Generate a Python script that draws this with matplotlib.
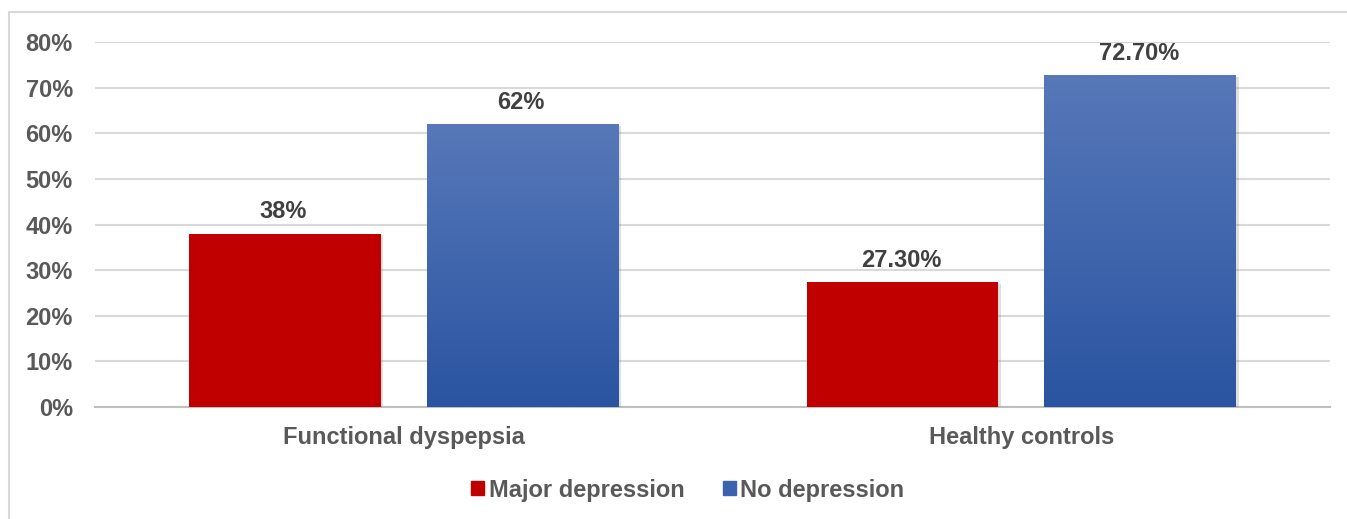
import matplotlib
matplotlib.use("Agg")
import matplotlib.pyplot as plt
import matplotlib.patches as mpatches
import matplotlib.patheffects as pe
from matplotlib.colors import LinearSegmentedColormap
import numpy as np

groups = ["Functional dyspepsia", "Healthy controls"]
major_depression = [38.0, 27.3]
no_depression = [62.0, 72.7]
major_labels = ["38%", "27.30%"]
no_labels = ["62%", "72.70%"]
yticks = [0, 10, 20, 30, 40, 50, 60, 70, 80]

RED = "#c00000"
BLUE_TOP = "#5778b9"
BLUE_BOTTOM = "#2a54a1"
BLUE_MID = "#3a63ae"
GRID = "#d9d9d9"
TICK_TXT = "#595959"
LABEL_TXT = "#404040"

plt.rcParams["font.family"] = ["Liberation Sans", "DejaVu Sans"]
plt.rcParams["font.weight"] = "bold"

fig = plt.figure(figsize=(13.47, 5.19), dpi=100)
ax = fig.add_axes([95 / 1347, 1 - 407 / 519, 1235 / 1347, 365 / 519])

# outer chart border
fig.patches.append(mpatches.Rectangle((9 / 1347, -0.05), 1.1, 1 - 12 / 519 + 0.05,
                                      transform=fig.transFigure, fill=False,
                                      edgecolor=GRID, lw=1.5, zorder=0))

x = np.arange(len(groups))
width = 0.31
off = 0.1925
shadow = [pe.SimplePatchShadow(offset=(2, -1), shadow_rgbFace="#808080", alpha=0.25), pe.Normal()]

red_bars = ax.bar(x - off, major_depression, width, color=RED, zorder=3)
blue_bars = ax.bar(x + off, no_depression, width, color=BLUE_MID, zorder=3)
for b in list(red_bars) + list(blue_bars):
    b.set_path_effects(shadow)

# vertical gradient on the blue bars
cmap = LinearSegmentedColormap.from_list("blue_grad", [BLUE_BOTTOM, BLUE_TOP])
grad = np.linspace(1, 0, 256).reshape(-1, 1)
for b in blue_bars:
    x0, h = b.get_x(), b.get_height()
    im = ax.imshow(grad, extent=[x0, x0 + b.get_width(), 0, h], aspect="auto",
                   cmap=cmap, zorder=4, interpolation="bilinear")
    im.set_clip_path(b)

for bars, labels in [(red_bars, major_labels), (blue_bars, no_labels)]:
    for b, lab in zip(bars, labels):
        ax.annotate(lab, (b.get_x() + b.get_width() / 2, b.get_height()),
                    xytext=(-1, 7.5), textcoords="offset points", ha="center", va="bottom",
                    fontsize=17, fontweight="bold", color=LABEL_TXT, zorder=5)

ax.set_xlim(-0.5, 1.5)
ax.set_ylim(0, 80)
ax.set_yticks(yticks)
ax.set_yticklabels([f"{t}%" for t in yticks])
ax.set_xticks(x)
ax.set_xticklabels(groups)
ax.tick_params(axis="y", length=0, pad=16, labelsize=17, labelcolor=TICK_TXT)
ax.tick_params(axis="x", length=0, pad=14, labelsize=17, labelcolor=TICK_TXT)
ax.yaxis.grid(True, color=GRID, lw=1.5, zorder=0)
ax.set_axisbelow(True)
for s in ["top", "right", "left"]:
    ax.spines[s].set_visible(False)
ax.spines["bottom"].set_color("#bfbfbf")
ax.spines["bottom"].set_linewidth(1.5)

handles = [mpatches.Patch(color=RED, label="Major depression"),
           mpatches.Patch(color=BLUE_MID, label="No depression")]
leg = fig.legend(handles=handles, loc="center", bbox_to_anchor=(688 / 1347, 1 - 490 / 519),
                 ncol=2, frameon=False, fontsize=17, handlelength=0.55, handleheight=0.55,
                 handletextpad=0.2, columnspacing=1.6)
for t in leg.get_texts():
    t.set_color(TICK_TXT)

fig.savefig("out.png", dpi=100, facecolor="white")
